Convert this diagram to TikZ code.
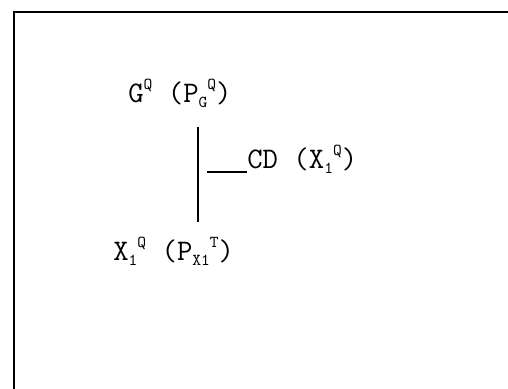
\documentclass[tikz,border=0pt]{standalone}
\usetikzlibrary{positioning}
\newcommand{\upq}[1]{\raisebox{1.0ex}{\fontsize{9.5}{9.5}\selectfont #1}}
\newcommand{\dnq}[1]{\raisebox{-0.45ex}{\fontsize{9.5}{9.5}\selectfont #1}}
\begin{document}
\begin{tikzpicture}[
x=0.02cm,y=-0.02cm,
lbl/.style={inner sep=0pt,anchor=base west,font=\ttfamily\fontsize{17}{20}\selectfont},
link/.style={line width=0.8pt},
frame/.style={line width=1.3pt}
]
\useasboundingbox (0,0) rectangle (508,389);
% partial frame, top and left edges only
\draw[frame] (508,12) -- (14,12) -- (14,389);

\node[lbl] (gq) at (128,102) {G\upq{Q} (P\dnq{G}\upq{Q})};
\node[lbl] (cd) at (247,168) {CD (X\dnq{1}\upq{Q})};
\node[lbl] (x1) at (113,260) {X\dnq{1}\upq{Q} (P\dnq{X1}\upq{T})};

\coordinate (jt) at (198,127);
\coordinate (jb) at (198,222);
\draw[link] (jt) -- (jb);
\draw[link] ([shift={(-40,4)}]cd.base west) -- ([shift={(0,4)}]cd.base west);
\end{tikzpicture}
\end{document}
